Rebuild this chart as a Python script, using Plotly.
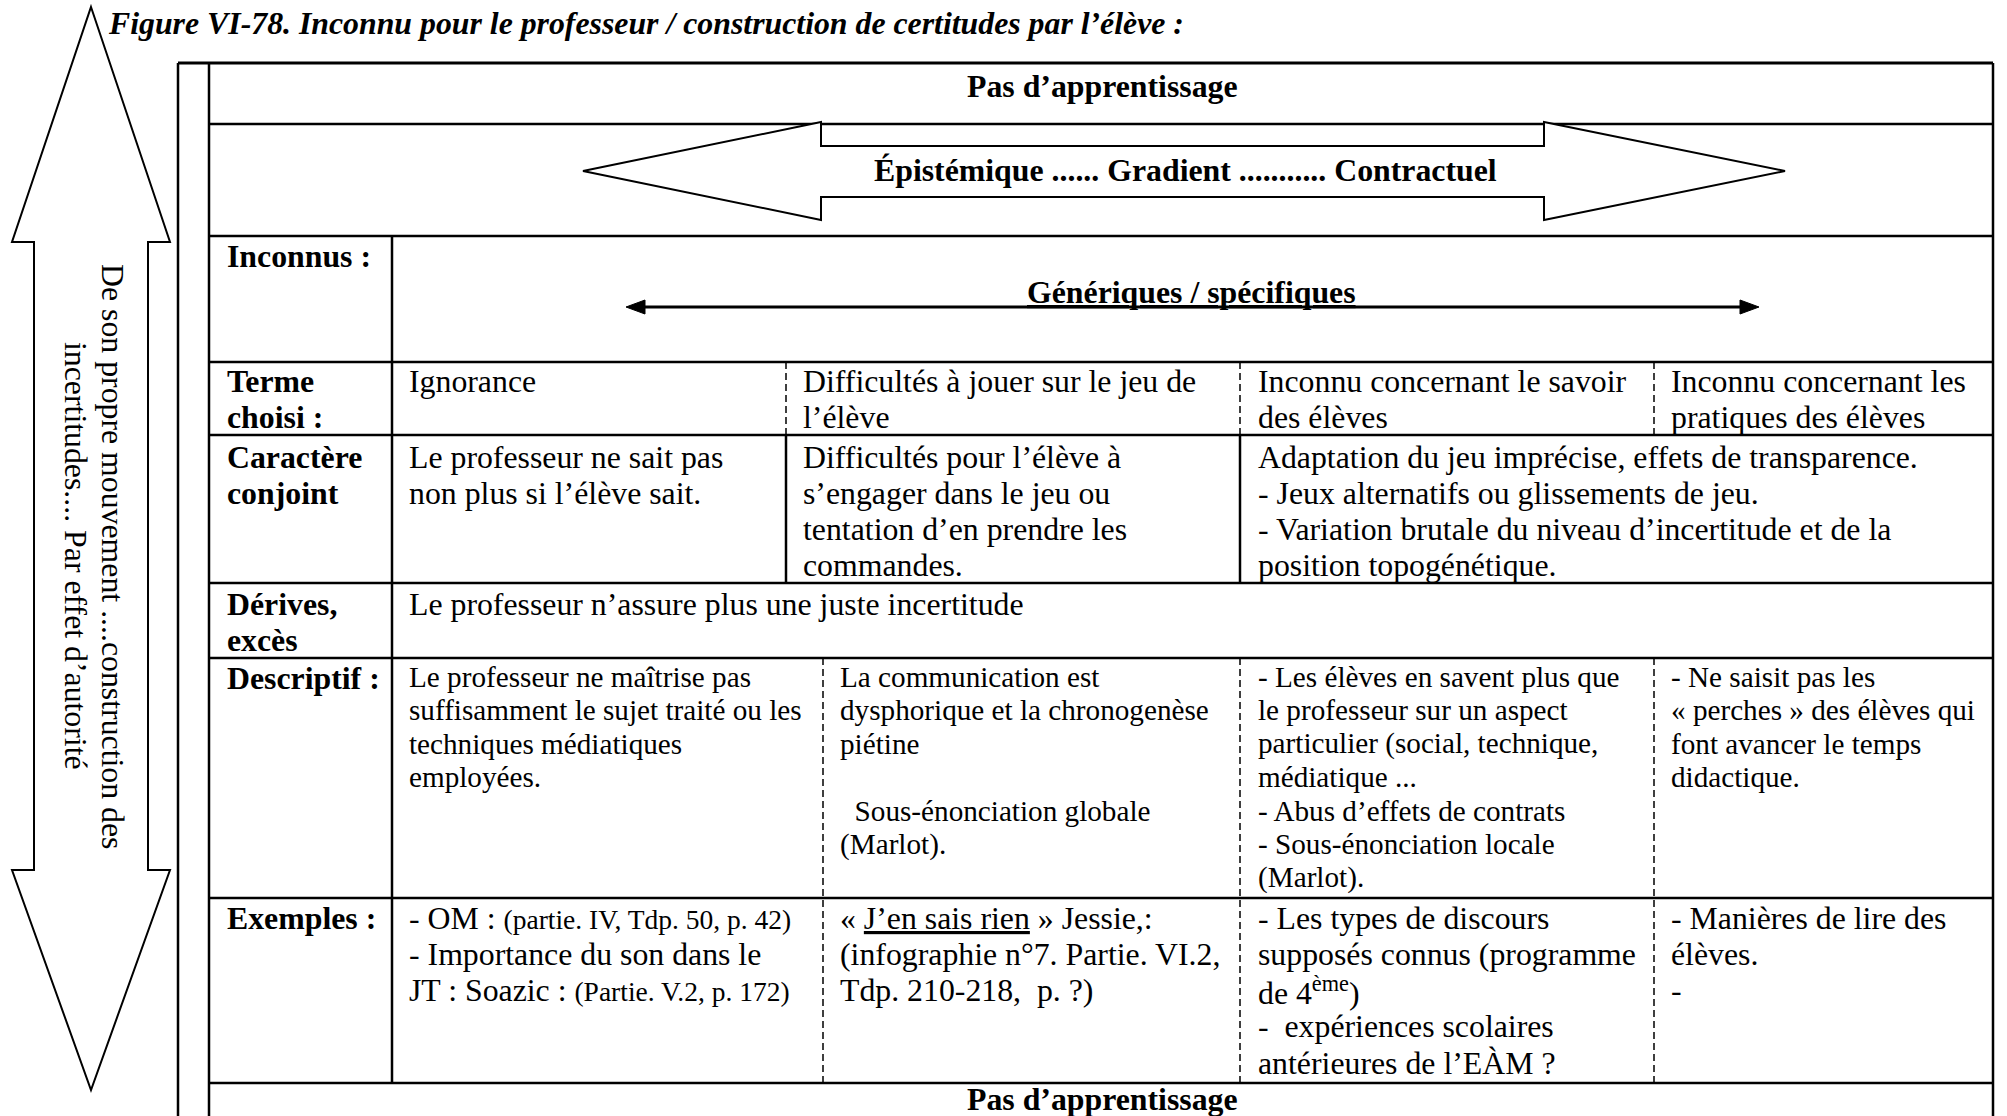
import plotly.graph_objects as go

W, H = 2007, 1116
FONT = "Liberation Serif, Times New Roman, serif"
BIG = 31.8      # 12 pt
SMALL = 29.2    # 11 pt

# ---------------- texts (data) ----------------
title_text = "Figure VI-78. Inconnu pour le professeur / construction de certitudes par l’élève :"
header_text = "Pas d’apprentissage"
footer_text = "Pas d’apprentissage"
gradient_text = "Épistémique ...... Gradient ........... Contractuel"
generic_text = "Génériques / spécifiques"
side_lines = ["De son propre mouvement ....construction des",
              "incertitudes.... Par effet d’autorité"]

row_labels = [["Inconnus :"], ["Terme", "choisi :"], ["Caractère", "conjoint"],
              ["Dérives,", "excès"], ["Descriptif :"], ["Exemples :"]]

terme_cells = [["Ignorance"],
               ["Difficultés à jouer sur le jeu de", "l’élève"],
               ["Inconnu concernant le savoir", "des élèves"],
               ["Inconnu concernant les", "pratiques des élèves"]]

caractere_cells = [["Le professeur ne sait pas", "non plus si l’élève sait."],
                   ["Difficultés pour l’élève à", "s’engager dans le jeu ou",
                    "tentation d’en prendre les", "commandes."],
                   ["Adaptation du jeu imprécise, effets de transparence.",
                    "- Jeux alternatifs ou glissements de jeu.",
                    "- Variation brutale du niveau d’incertitude et de la",
                    "position topogénétique."]]

derives_cells = [["Le professeur n’assure plus une juste incertitude"]]

descriptif_cells = [["Le professeur ne maîtrise pas", "suffisamment le sujet traité ou les",
                     "techniques médiatiques", "employées."],
                    ["La communication est", "dysphorique et la chronogenèse", "piétine", "",
                     "\u00a0\u00a0Sous-énonciation globale", "(Marlot)."],
                    ["- Les élèves en savent plus que", "le professeur sur un aspect",
                     "particulier (social, technique,", "médiatique ...",
                     "- Abus d’effets de contrats", "- Sous-énonciation locale", "(Marlot)."],
                    ["- Ne saisit pas les", "« perches » des élèves qui",
                     "font avancer le temps", "didactique."]]

exemples_cells = [["- OM : <span style='font-size:27.5px'>(partie. IV, Tdp. 50, p. 42)</span>",
                   "- Importance du son dans le",
                   "JT : Soazic : <span style='font-size:27.5px'>(Partie. V.2, p. 172)</span>"],
                  ["« <u>J’en sais rien</u> » Jessie,:", "(infographie n°7. Partie. VI.2,",
                   "Tdp. 210-218,\u00a0 p. ?)"],
                  ["- Les types de discours", "supposés connus (programme",
                   "de 4<sup>ème</sup>)", "-\u00a0 expériences scolaires",
                   "antérieures de l’EÀM ?"],
                  ["- Manières de lire des", "élèves.", "-"]]

# ---------------- layout geometry ----------------
X_OUT, X_L, X_LAB, X_C1A, X_C1B, X_C2, X_C3, X_R = 178, 209, 392, 786, 823, 1240, 1654, 1993
Y_TOP = 63
ROW_Y = [124, 236, 362, 435, 583, 658, 898, 1083]

shapes = []
ann = []


def hline(y, x0, x1, w=2.5):
    shapes.append(dict(type="line", xref="x", yref="y", x0=x0, x1=x1, y0=y, y1=y,
                       line=dict(color="black", width=w)))


def vline(x, y0, y1, w=2.5, dash=None):
    ln = dict(color="black", width=w)
    if dash:
        ln["dash"] = dash
    shapes.append(dict(type="line", xref="x", yref="y", x0=x, x1=x, y0=y0, y1=y1, line=ln))


def text(x, y, t, size=BIG, xanchor="left", angle=0):
    ann.append(dict(x=x, y=y, xref="x", yref="y", text=t, showarrow=False,
                    xanchor=xanchor, yanchor="middle", textangle=angle,
                    font=dict(family=FONT, size=size, color="black")))


def block(x, y0, lines, size=BIG, dy=36.0, bold=False):
    for i, t in enumerate(lines):
        if t == "":
            continue
        text(x, y0 + i * dy, f"<b>{t}</b>" if bold else t, size=size)


# frame
vline(X_OUT, Y_TOP, H + 10)
vline(X_L, Y_TOP, H + 10)
vline(X_R, Y_TOP, H + 10)
hline(Y_TOP, X_OUT, X_R, w=3)
for y in ROW_Y:
    hline(y, X_L, X_R)
vline(X_LAB, ROW_Y[1], ROW_Y[7])

# column separators
DASH = "7px,4px"
r = ROW_Y
for x in (X_C1A, X_C2, X_C3):                 # Terme row (dashed)
    vline(x, r[2], r[3], w=1.5, dash=DASH)
for x in (X_C1A, X_C2):                       # Caractere row (solid)
    vline(x, r[3], r[4], w=2.5)
for x in (X_C1B, X_C2, X_C3):                 # Descriptif & Exemples (dashed)
    vline(x, r[5], r[7], w=1.5, dash=DASH)

# left big double arrow
shapes.append(dict(type="path", xref="x", yref="y",
                   path="M 91,7 L 170,242 L 148,242 L 148,870 L 170,870 L 91,1090 "
                        "L 12,870 L 34,870 L 34,242 L 12,242 Z",
                   line=dict(color="black", width=2), fillcolor="white"))

# gradient block arrow
shapes.append(dict(type="path", xref="x", yref="y",
                   path="M 583,171 L 821,122 L 821,146 L 1544,146 L 1544,122 L 1785,171 "
                        "L 1544,220 L 1544,197 L 821,197 L 821,220 Z",
                   line=dict(color="black", width=2), fillcolor="white"))

# generic / specific arrow
hline(307, 640, 1745, w=3)
shapes.append(dict(type="path", xref="x", yref="y", path="M 626,307 L 645,300 L 645,314 Z",
                   line=dict(color="black", width=1), fillcolor="black"))
shapes.append(dict(type="path", xref="x", yref="y", path="M 1759,307 L 1740,300 L 1740,314 Z",
                   line=dict(color="black", width=1), fillcolor="black"))

# ---------------- texts placement ----------------
text(106, 23, f"<b><i>{title_text}</i></b>", size=BIG)
text(1102, 86, f"<b>{header_text}</b>", xanchor="center")
text(1185, 170, f"<b>{gradient_text}</b>", xanchor="center")
text(1191, 292, f"<b><u>{generic_text}</u></b>", xanchor="center")
text(1102, 1099, f"<b>{footer_text}</b>", xanchor="center")

text(113, 556, side_lines[0], xanchor="center", angle=90)
text(76, 556, side_lines[1], xanchor="center", angle=90)

label_y = [256, 381, 457, 604, 678, 918]
for lab, y in zip(row_labels, label_y):
    block(225, y, lab, bold=True)

xs4 = [407, 801, 1256, 1669]
for cell, x in zip(terme_cells, xs4):
    block(x, 381, cell)
for cell, x in zip(caractere_cells, [407, 801, 1256]):
    block(x, 457, cell)
block(407, 604, derives_cells[0])
xsd = [407, 838, 1256, 1669]
for cell, x in zip(descriptif_cells, xsd):
    block(x, 677, cell, size=SMALL, dy=33.4)
for cell, x in zip(exemples_cells, xsd):
    block(x, 918, cell, dy=36.3)

fig = go.Figure()
fig.update_layout(
    width=W, height=H, margin=dict(l=0, r=0, t=0, b=0),
    paper_bgcolor="white", plot_bgcolor="white",
    xaxis=dict(range=[0, W], visible=False, fixedrange=True),
    yaxis=dict(range=[H, 0], visible=False, fixedrange=True),
    shapes=shapes, annotations=ann, showlegend=False, hovermode=False,
)
fig.write_html("out.html", config={"displayModeBar": False, "staticPlot": True},
               post_script="document.body.style.margin='0';document.body.style.overflow='hidden';")
